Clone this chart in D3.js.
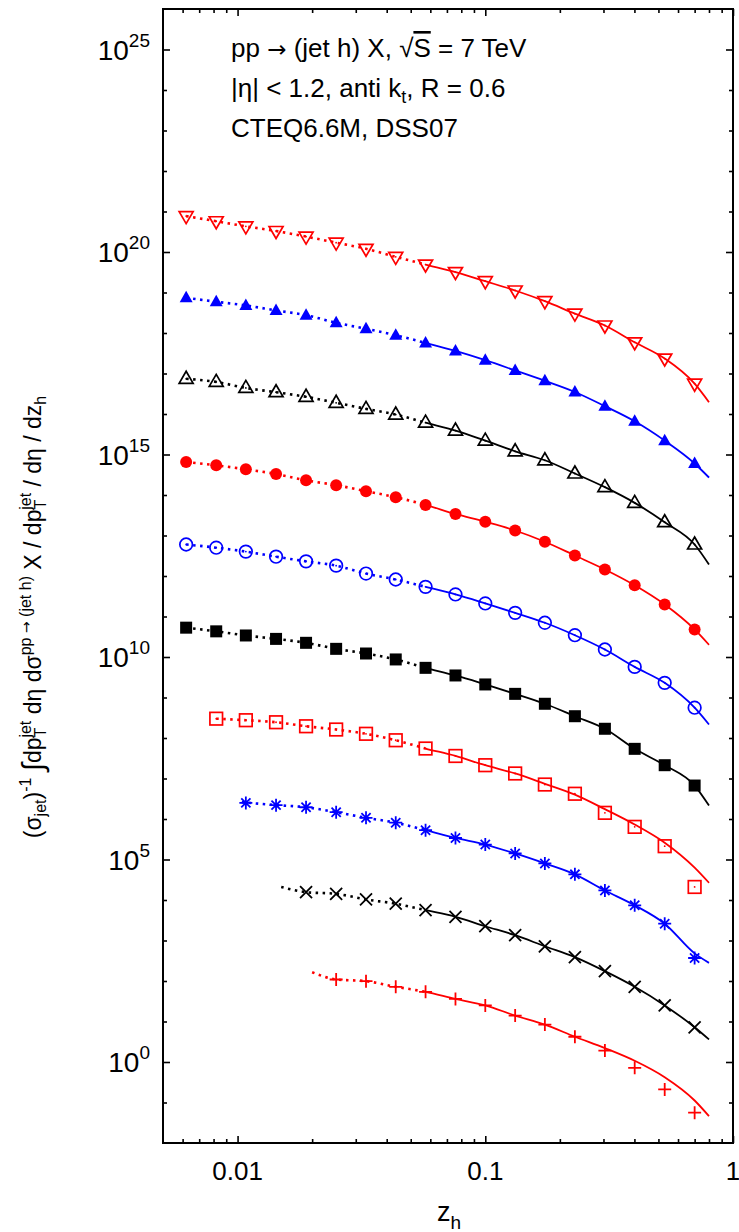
<!DOCTYPE html>
<html>
<head>
<meta charset="utf-8">
<script src="https://cdn.jsdelivr.net/npm/d3@7"></script>
<style>
  body { margin: 0; background: #fff; }
  text { font-family: "Liberation Sans", Arial, Helvetica, sans-serif; fill: #000; }
  .arrow { font-family: "DejaVu Sans", sans-serif; }
</style>
</head>
<body>
<svg id="chart" width="739" height="1232"></svg>
<script>
// z_h values at which the hadron distributions are sampled
const zGrid = [0.0062, 0.0082, 0.0108, 0.0143, 0.0189, 0.025, 0.033, 0.0435, 0.0574,
               0.0758, 0.1, 0.132, 0.174, 0.23, 0.304, 0.401, 0.53, 0.70];
// below this z_h the curves are drawn dotted
const zSolidFrom = 0.0574;

// marker values (aligned with zGrid, null where no point is shown)
const ptsTriDownRed = [7.7e20, 5.75e20, 4.3e20, 3.3e20, 2.4e20, 1.7e20, 1.2e20, 7.6e19, 4.9e19,
                       3.2e19, 1.9e19, 1.12e19, 6.1e18, 3.0e18, 1.53e18, 5.9e17, 2.34e17, 5.6e16];
const ptsTriUpBlue = [7.4e18, 5.9e18, 4.8e18, 3.6e18, 2.75e18, 1.79e18, 1.27e18, 8.8e17, 5.7e17,
                      3.6e17, 2.13e17, 1.19e17, 6.6e16, 3.5e16, 1.56e16, 6.6e15, 2.2e15, 6.0e14];
const ptsTriUpBlack = [7.4e16, 6.2e16, 4.4e16, 3.45e16, 2.66e16, 1.89e16, 1.34e16, 9.7e15, 6.1e15,
                       3.9e15, 2.2e15, 1.2e15, 7.2e14, 3.4e14, 1.56e14, 6.4e13, 2.13e13, 6.0e12];
const ptsCircleRed = [6.5e14, 5.4e14, 4.3e14, 3.3e14, 2.3e14, 1.75e14, 1.24e14, 8.8e13, 5.7e13,
                      3.4e13, 2.18e13, 1.33e13, 7.0e12, 3.2e12, 1.45e12, 5.9e11, 1.98e11, 4.8e10];
const ptsCircleBlue = [6.0e12, 5.0e12, 4.0e12, 3.0e12, 2.3e12, 1.8e12, 1.15e12, 8.2e11, 5.4e11,
                       3.5e11, 2.1e11, 1.23e11, 7.0e10, 3.45e10, 1.53e10, 5.7e9, 2.3e9, 5.6e8];
const ptsSquareBlack = [5.3e10, 4.3e10, 3.4e10, 2.8e10, 2.24e10, 1.59e10, 1.22e10, 8.7e9, 5.4e9,
                        3.5e9, 2.1e9, 1.23e9, 7.0e8, 3.45e8, 1.69e8, 5.4e7, 2.13e7, 6.7e6];
const ptsSquareRed = [null, 3.0e8, 2.75e8, 2.45e8, 1.95e8, 1.62e8, 1.27e8, 8.8e7, 5.5e7,
                      3.6e7, 2.13e7, 1.33e7, 7.1e6, 4.2e6, 1.42e6, 6.4e5, 2.13e5, 2.1e4];
const ptsStarBlue = [null, null, 2.5e6, 2.2e6, 1.95e6, 1.47e6, 1.07e6, 8.1e5, 5.3e5,
                     3.4e5, 2.34e5, 1.41e5, 8.0e4, 4.3e4, 1.72e4, 7.4e3, 2.6e3, 370];
const ptsCrossBlack = [null, null, null, null, 1.56e4, 1.42e4, 1.03e4, 8.1e3, 5.6e3,
                       3.85e3, 2.25e3, 1.35e3, 720, 390, 175, 72, 25, 7.2];
const ptsPlusRed = [null, null, null, null, null, 109, 99, 72, 54,
                    36, 25, 14, 8.4, 4.2, 1.92, 0.72, 0.21, 0.056];

// theory curves as [z_h, value] nodes
const fitTriDownRed = [[0.0062, 7.7e20], [0.0082, 5.75e20], [0.0108, 4.3e20], [0.0143, 3.3e20], [0.0189, 2.4e20],
  [0.025, 1.7e20], [0.033, 1.2e20], [0.0435, 7.6e19], [0.0574, 4.9e19], [0.0758, 3.2e19], [0.1, 1.9e19],
  [0.132, 1.12e19], [0.174, 6.1e18], [0.23, 3.0e18], [0.304, 1.53e18], [0.401, 5.9e17], [0.53, 2.34e17],
  [0.70, 5.6e16], [0.8, 1.95e16]];
const fitTriUpBlue = [[0.0062, 7.4e18], [0.0082, 5.9e18], [0.0108, 4.8e18], [0.0143, 3.6e18], [0.0189, 2.75e18],
  [0.025, 1.79e18], [0.033, 1.27e18], [0.0435, 8.8e17], [0.0574, 5.7e17], [0.0758, 3.6e17], [0.1, 2.13e17],
  [0.132, 1.19e17], [0.174, 6.6e16], [0.23, 3.5e16], [0.304, 1.56e16], [0.401, 6.6e15], [0.53, 2.2e15],
  [0.70, 6.0e14], [0.8, 2.7e14]];
const fitTriUpBlack = [[0.0062, 7.4e16], [0.0082, 6.2e16], [0.0108, 4.4e16], [0.0143, 3.45e16], [0.0189, 2.66e16],
  [0.025, 1.89e16], [0.033, 1.34e16], [0.0435, 9.7e15], [0.0574, 6.1e15], [0.0758, 3.9e15], [0.1, 2.2e15],
  [0.132, 1.2e15], [0.174, 7.2e14], [0.23, 3.4e14], [0.304, 1.56e14], [0.401, 6.4e13], [0.53, 2.13e13],
  [0.70, 6.0e12], [0.8, 1.92e12]];
const fitCircleRed = [[0.0062, 6.5e14], [0.0082, 5.4e14], [0.0108, 4.3e14], [0.0143, 3.3e14], [0.0189, 2.3e14],
  [0.025, 1.75e14], [0.033, 1.24e14], [0.0435, 8.8e13], [0.0574, 5.7e13], [0.0758, 3.4e13], [0.1, 2.18e13],
  [0.132, 1.33e13], [0.174, 7.0e12], [0.23, 3.2e12], [0.304, 1.45e12], [0.401, 5.9e11], [0.53, 1.98e11],
  [0.70, 4.8e10], [0.8, 2.0e10]];
const fitCircleBlue = [[0.0062, 6.0e12], [0.0082, 5.0e12], [0.0108, 4.0e12], [0.0143, 3.0e12], [0.0189, 2.3e12],
  [0.025, 1.8e12], [0.033, 1.15e12], [0.0435, 8.2e11], [0.0574, 5.4e11], [0.0758, 3.5e11], [0.1, 2.1e11],
  [0.132, 1.23e11], [0.174, 7.0e10], [0.23, 3.45e10], [0.304, 1.53e10], [0.401, 5.7e9], [0.53, 2.3e9],
  [0.70, 5.6e8], [0.8, 2.15e8]];
const fitSquareBlack = [[0.0062, 5.3e10], [0.0082, 4.3e10], [0.0108, 3.4e10], [0.0143, 2.8e10], [0.0189, 2.24e10],
  [0.025, 1.59e10], [0.033, 1.22e10], [0.0435, 8.7e9], [0.0574, 5.4e9], [0.0758, 3.5e9], [0.1, 2.1e9],
  [0.132, 1.23e9], [0.174, 7.0e8], [0.23, 3.45e8], [0.304, 1.69e8], [0.401, 5.4e7], [0.53, 2.13e7],
  [0.70, 6.7e6], [0.8, 2.15e6]];
const fitSquareRed = [[0.0082, 3.0e8], [0.0108, 2.75e8], [0.0143, 2.45e8], [0.0189, 1.95e8],
  [0.025, 1.62e8], [0.033, 1.27e8], [0.0435, 8.8e7], [0.0574, 5.5e7], [0.0758, 3.6e7], [0.1, 2.13e7],
  [0.132, 1.33e7], [0.174, 7.4e6], [0.23, 4.0e6], [0.304, 1.75e6], [0.401, 7.3e5], [0.53, 2.6e5],
  [0.70, 6.3e4], [0.8, 2.66e4]];
const fitStarBlue = [[0.0104, 2.6e6], [0.0143, 2.2e6], [0.0189, 1.95e6],
  [0.025, 1.47e6], [0.033, 1.07e6], [0.0435, 8.1e5], [0.0574, 5.3e5], [0.0758, 3.4e5], [0.1, 2.34e5],
  [0.132, 1.41e5], [0.174, 8.0e4], [0.23, 4.3e4], [0.304, 1.72e4], [0.401, 7.4e3], [0.53, 2.6e3],
  [0.70, 480], [0.8, 280]];
const fitCrossBlack = [[0.015, 2.1e4], [0.0189, 1.56e4],
  [0.025, 1.42e4], [0.033, 1.03e4], [0.0435, 8.1e3], [0.0574, 5.6e3], [0.0758, 3.85e3], [0.1, 2.25e3],
  [0.132, 1.35e3], [0.174, 720], [0.23, 390], [0.304, 175], [0.401, 72], [0.53, 25],
  [0.70, 7.2], [0.8, 3.6]];
const fitPlusRed = [[0.020, 165],
  [0.025, 109], [0.033, 99], [0.0435, 72], [0.0574, 54], [0.0758, 36], [0.1, 25],
  [0.132, 14], [0.174, 8.4], [0.23, 4.2], [0.304, 2.2], [0.401, 1.07], [0.53, 0.42],
  [0.70, 0.112], [0.8, 0.046]];

// axis ticks
const yMajorTicks = [1e0, 1e5, 1e10, 1e15, 1e20, 1e25];
const yMajorExp = ["0", "5", "10", "15", "20", "25"];
const yMinorTicks = [1e-1, 1e1, 1e2, 1e3, 1e4, 1e6, 1e7, 1e8, 1e9, 1e11, 1e12, 1e13, 1e14,
                     1e16, 1e17, 1e18, 1e19, 1e21, 1e22, 1e23, 1e24];
const xMajorTicks = [0.01, 0.1, 1];
const xMajorLabels = ["0.01", "0.1", "1"];
const xMinorTicks = [0.006, 0.007, 0.008, 0.009, 0.02, 0.03, 0.04, 0.05, 0.06, 0.07, 0.08, 0.09,
                     0.2, 0.3, 0.4, 0.5, 0.6, 0.7, 0.8, 0.9];

const series = [
  { pts: ptsTriDownRed, fit: fitTriDownRed, color: "#ff0000", shape: "triDownOpen" },
  { pts: ptsTriUpBlue, fit: fitTriUpBlue, color: "#0000ff", shape: "triUpFilled" },
  { pts: ptsTriUpBlack, fit: fitTriUpBlack, color: "#000000", shape: "triUpOpen" },
  { pts: ptsCircleRed, fit: fitCircleRed, color: "#ff0000", shape: "circleFilled" },
  { pts: ptsCircleBlue, fit: fitCircleBlue, color: "#0000ff", shape: "circleOpen" },
  { pts: ptsSquareBlack, fit: fitSquareBlack, color: "#000000", shape: "squareFilled" },
  { pts: ptsSquareRed, fit: fitSquareRed, color: "#ff0000", shape: "squareOpen" },
  { pts: ptsStarBlue, fit: fitStarBlue, color: "#0000ff", shape: "star" },
  { pts: ptsCrossBlack, fit: fitCrossBlack, color: "#000000", shape: "cross" },
  { pts: ptsPlusRed, fit: fitPlusRed, color: "#ff0000", shape: "plus" }
];

const svg = d3.select("#chart");
const plot = { left: 163, right: 733, top: 9, bottom: 1143 };

const x = d3.scaleLog().domain([0.005, 1]).range([plot.left, plot.right]);
const y = d3.scaleLog().domain([1e-2, 1e26]).range([plot.bottom, plot.top]);

svg.append("rect").attr("width", 739).attr("height", 1232).attr("fill", "#fff");

// clip regions: dotted part left of zSolidFrom, solid part to the right
const defs = svg.append("defs");
defs.append("clipPath").attr("id", "clipDot").append("rect")
  .attr("x", plot.left).attr("y", plot.top)
  .attr("width", x(zSolidFrom) - plot.left).attr("height", plot.bottom - plot.top);
defs.append("clipPath").attr("id", "clipSolid").append("rect")
  .attr("x", x(zSolidFrom)).attr("y", plot.top)
  .attr("width", plot.right - x(zSolidFrom)).attr("height", plot.bottom - plot.top);

const line = d3.line()
  .x(d => x(d[0]))
  .y(d => y(d[1]))
  .curve(d3.curveMonotoneX);

const curves = svg.append("g").attr("fill", "none");
series.forEach(s => {
  curves.append("path").attr("d", line(s.fit))
    .attr("stroke", s.color).attr("stroke-width", 2.6)
    .attr("stroke-dasharray", "2.5,4.5")
    .attr("clip-path", "url(#clipDot)");
  curves.append("path").attr("d", line(s.fit))
    .attr("stroke", s.color).attr("stroke-width", 1.8)
    .attr("clip-path", "url(#clipSolid)");
});

// marker glyphs
function drawMarker(g, shape, color) {
  const sw = 1.7;
  switch (shape) {
    case "triDownOpen":
      g.append("path").attr("d", "M-7,-4.5L7,-4.5L0,7.5Z")
        .attr("fill", "none").attr("stroke", color).attr("stroke-width", sw);
      g.append("circle").attr("r", 0.9).attr("fill", color);
      break;
    case "triUpFilled":
      g.append("path").attr("d", "M-6.5,4.5L6.5,4.5L0,-7Z").attr("fill", color);
      break;
    case "triUpOpen":
      g.append("path").attr("d", "M-7,4.5L7,4.5L0,-7.5Z")
        .attr("fill", "none").attr("stroke", color).attr("stroke-width", sw);
      g.append("circle").attr("r", 0.9).attr("fill", color);
      break;
    case "circleFilled":
      g.append("circle").attr("r", 6).attr("fill", color);
      break;
    case "circleOpen":
      g.append("circle").attr("r", 6.3).attr("fill", "none")
        .attr("stroke", color).attr("stroke-width", sw);
      g.append("circle").attr("r", 0.9).attr("fill", color);
      break;
    case "squareFilled":
      g.append("rect").attr("x", -6).attr("y", -6).attr("width", 12).attr("height", 12)
        .attr("fill", color);
      break;
    case "squareOpen":
      g.append("rect").attr("x", -6.3).attr("y", -6.3).attr("width", 12.6).attr("height", 12.6)
        .attr("fill", "none").attr("stroke", color).attr("stroke-width", sw);
      g.append("circle").attr("r", 0.9).attr("fill", color);
      break;
    case "star":
      g.append("path").attr("d", "M-6.5,0H6.5M0,-6.5V6.5M-4.6,-4.6L4.6,4.6M-4.6,4.6L4.6,-4.6")
        .attr("stroke", color).attr("stroke-width", 1.8);
      break;
    case "cross":
      g.append("path").attr("d", "M-6,-6L6,6M-6,6L6,-6")
        .attr("stroke", color).attr("stroke-width", 1.8);
      break;
    case "plus":
      g.append("path").attr("d", "M-6.5,0H6.5M0,-6.5V6.5")
        .attr("stroke", color).attr("stroke-width", 1.8);
      break;
  }
}

const markers = svg.append("g");
series.forEach(s => {
  s.pts.forEach((v, i) => {
    if (v == null) return;
    const g = markers.append("g")
      .attr("transform", `translate(${x(zGrid[i])},${y(v)})`);
    drawMarker(g, s.shape, s.color);
  });
});

// axes with inward ticks on all four sides
function styleAxis(g) {
  g.select(".domain").remove();
  g.selectAll(".tick line").attr("stroke", "#000").attr("stroke-width", 1.6);
}
const h = plot.bottom - plot.top;
const w = plot.right - plot.left;

svg.append("g").attr("transform", `translate(${plot.left},0)`)
  .call(d3.axisLeft(y).tickValues(yMajorTicks).tickSize(-7).tickFormat(""))
  .call(styleAxis);
svg.append("g").attr("transform", `translate(${plot.left},0)`)
  .call(d3.axisLeft(y).tickValues(yMinorTicks).tickSize(-4).tickFormat(""))
  .call(styleAxis);
svg.append("g").attr("transform", `translate(${plot.right},0)`)
  .call(d3.axisRight(y).tickValues(yMajorTicks).tickSize(-7).tickFormat(""))
  .call(styleAxis);
svg.append("g").attr("transform", `translate(${plot.right},0)`)
  .call(d3.axisRight(y).tickValues(yMinorTicks).tickSize(-4).tickFormat(""))
  .call(styleAxis);
svg.append("g").attr("transform", `translate(0,${plot.bottom})`)
  .call(d3.axisBottom(x).tickValues(xMajorTicks).tickSize(-7).tickFormat(""))
  .call(styleAxis);
svg.append("g").attr("transform", `translate(0,${plot.bottom})`)
  .call(d3.axisBottom(x).tickValues(xMinorTicks).tickSize(-4).tickFormat(""))
  .call(styleAxis);
svg.append("g").attr("transform", `translate(0,${plot.top})`)
  .call(d3.axisTop(x).tickValues(xMajorTicks).tickSize(-7).tickFormat(""))
  .call(styleAxis);
svg.append("g").attr("transform", `translate(0,${plot.top})`)
  .call(d3.axisTop(x).tickValues(xMinorTicks).tickSize(-4).tickFormat(""))
  .call(styleAxis);

svg.append("rect")
  .attr("x", plot.left).attr("y", plot.top).attr("width", w).attr("height", h)
  .attr("fill", "none").attr("stroke", "#000").attr("stroke-width", 2);

// tick labels
yMajorTicks.forEach((v, i) => {
  const t = svg.append("text")
    .attr("x", 150).attr("y", y(v) + 10)
    .attr("text-anchor", "end").attr("font-size", 28);
  t.append("tspan").text("10");
  t.append("tspan").attr("font-size", 19).attr("dy", -13).text(yMajorExp[i]);
});
xMajorTicks.forEach((v, i) => {
  svg.append("text")
    .attr("x", x(v)).attr("y", 1180)
    .attr("text-anchor", "middle").attr("font-size", 26)
    .text(xMajorLabels[i]);
});

// x-axis title
const xt = svg.append("text").attr("x", 437).attr("y", 1221).attr("font-size", 27);
xt.append("tspan").text("z");
xt.append("tspan").attr("font-size", 19).attr("dy", 8).text("h");

// process annotation
const ann = svg.append("g").attr("font-size", 26);
const l1 = ann.append("text").attr("x", 231).attr("y", 57);
l1.append("tspan").text("pp ");
l1.append("tspan").attr("class", "arrow").attr("font-size", 23).text("\u2192");
l1.append("tspan").text(" (jet h) X, \u221A");
l1.append("tspan").style("text-decoration", "overline").text("S");
l1.append("tspan").text(" = 7 TeV");
const l2 = ann.append("text").attr("x", 231).attr("y", 97);
l2.append("tspan").text("|\u03B7| < 1.2, anti k");
l2.append("tspan").attr("font-size", 18).attr("dy", 6).text("t");
l2.append("tspan").attr("dy", -6).text(", R = 0.6");
ann.append("text").attr("x", 231).attr("y", 137).text("CTEQ6.6M, DSS07");

// y-axis title
const yt = svg.append("text")
  .attr("transform", "translate(41,617) rotate(-90)")
  .attr("text-anchor", "middle").attr("font-size", 23);
const sub = 16;
yt.append("tspan").text("(\u03C3");
yt.append("tspan").attr("font-size", sub).attr("dy", 5).text("jet");
yt.append("tspan").attr("dy", -5).text(")");
yt.append("tspan").attr("font-size", sub).attr("dy", -10).text("-1");
yt.append("tspan").attr("dy", 10).text(" ");
yt.append("tspan").attr("font-size", 30).attr("dy", 2).text("\u222B");
yt.append("tspan").attr("dy", -2).text("dp");
yt.append("tspan").attr("font-size", sub).attr("dy", 5).text("T");
yt.append("tspan").attr("font-size", sub).attr("dx", -10).attr("dy", -15).text("jet");
yt.append("tspan").attr("dy", 10).text(" d\u03B7 d\u03C3");
yt.append("tspan").attr("font-size", sub).attr("dy", -10).text("pp ");
yt.append("tspan").attr("class", "arrow").attr("font-size", 14).text("\u2192");
yt.append("tspan").attr("font-size", sub).text(" (jet h)");
yt.append("tspan").attr("dy", 10).text(" X / dp");
yt.append("tspan").attr("font-size", sub).attr("dy", 5).text("T");
yt.append("tspan").attr("font-size", sub).attr("dx", -10).attr("dy", -15).text("jet");
yt.append("tspan").attr("dy", 10).text(" / d\u03B7 / dz");
yt.append("tspan").attr("font-size", sub).attr("dy", 5).text("h");
</script>
</body>
</html>
